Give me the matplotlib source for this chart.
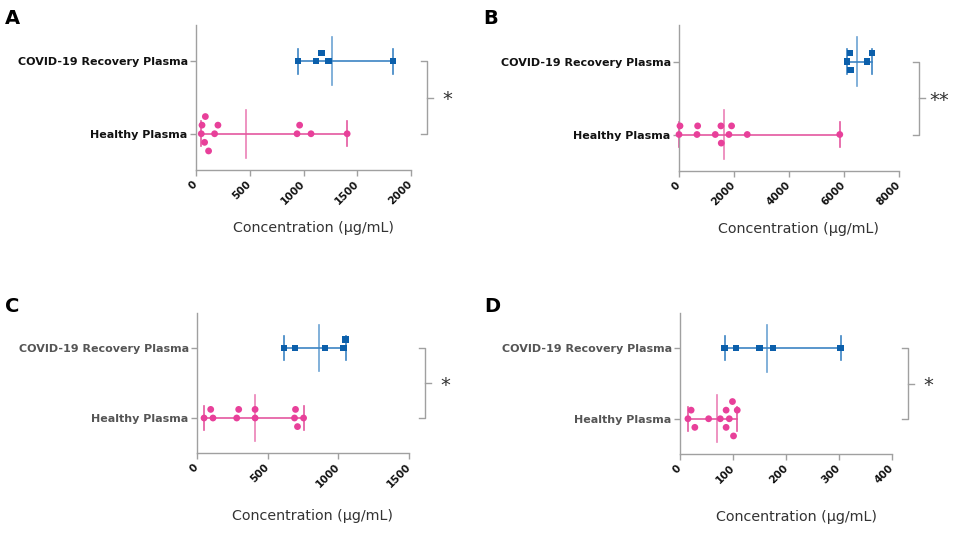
import numpy as np
import matplotlib
matplotlib.use("Agg")
import matplotlib.pyplot as plt
from matplotlib.transforms import blended_transform_factory

# ---------------- data ----------------
categories = ["Healthy Plasma", "COVID-19 Recovery Plasma"]
panel_letters = ["A", "B", "C", "D"]

a_covid = [949, 1119, 1168, 1233, 1836]
a_healthy = [49, 56, 80, 87, 117, 173, 204, 940, 964, 1070, 1406]
b_covid = [6100, 6209, 6233, 6826, 7008]
b_healthy = [0, 36, 654, 678, 1319, 1525, 1537, 1815, 1912, 2481, 5846]
c_covid = [614, 694, 907, 1037, 1051]
c_healthy = [50, 97, 113, 281, 295, 411, 411, 690, 697, 711, 754]
d_covid = [84, 105, 150, 175, 303]
d_healthy = [15, 21, 28, 54, 76, 87, 87, 93, 99, 101, 108]

a_ticks = [0, 500, 1000, 1500, 2000]
b_ticks = [0, 2000, 4000, 6000, 8000]
c_ticks = [0, 500, 1000, 1500]
d_ticks = [0, 100, 200, 300, 400]

significance = ["*", "**", "*", "*"]
x_label = "Concentration (µg/mL)"

# ---------------- style ----------------
W, H = 960, 535
fig = plt.figure(figsize=(W / 100, H / 100), dpi=100)
plt.rcParams['font.family'] = ['DejaVu Sans']

COVID_MARK = "#0b5fab"
COVID_LINE = "#3c84c4"
HEALTHY_MARK = "#e8409a"
HEALTHY_LINE = "#e4579f"
SPINE = "#a0a0a0"

# axes boxes in pixels: left, top, right, bottom
boxes = [(196, 25, 411, 170), (679, 25, 899, 171),
         (197, 313, 409, 453), (680, 313, 892, 454)]
letter_pos = [(12, 19), (491, 19), (12, 307), (492, 306)]
label_colors = ["#111111", "#111111", "#555555", "#555555"]
bracket_off = [16, 20, 16, 16]
xlabel_off = [58, 58, 63, 63]

panels = [(a_healthy, a_covid, a_ticks), (b_healthy, b_covid, b_ticks),
          (c_healthy, c_covid, c_ticks), (d_healthy, d_covid, d_ticks)]

ROW_PX = 8.6


def swarm_rows(vals, px_per_unit, d_px=ROW_PX):
    vals = np.asarray(vals, float)
    order = np.argsort(vals, kind="stable")
    placed = []
    rows = np.zeros(len(vals))
    for i in order:
        x = vals[i] * px_per_unit
        found = None
        lvl = 0
        while found is None:
            cands = [0] if lvl == 0 else [lvl, -lvl]
            for r in cands:
                ok = all(np.hypot(x - px, (r - pr) * d_px) >= d_px - 1e-6
                         for px, pr in placed)
                if ok:
                    found = r
                    break
            lvl += 1
        rows[i] = found
        placed.append((x, found))
    return rows


for k, (healthy, covid, ticks) in enumerate(panels):
    l, t, r, b = boxes[k]
    wpx, hpx = r - l, b - t
    ax = fig.add_axes([l / W, 1 - b / H, wpx / W, hpx / H])
    ax.set_xlim(0, ticks[-1])
    ax.set_ylim(-0.5, 1.5)
    px_per_unit = wpx / ticks[-1]
    row_units = ROW_PX / (hpx / 2.0)

    groups = [(healthy, 0, "o", HEALTHY_MARK, HEALTHY_LINE, 24),
              (covid, 1, "s", COVID_MARK, COVID_LINE, 20)]
    for vals, y, mk, mc, lc, s in groups:
        v = np.asarray(vals, float)
        lo, hi, mean = v.min(), v.max(), v.mean()
        ax.plot([lo, hi], [y, y], color=lc, lw=1.2, zorder=2, clip_on=False)
        for e in (lo, hi):
            ax.plot([e, e], [y - 0.17, y + 0.17], color=lc, lw=1.2,
                    zorder=2, clip_on=False)
        ax.plot([mean, mean], [y - 0.33, y + 0.33], color=lc, lw=1.2,
                alpha=0.75, zorder=2, clip_on=False)
        rows = swarm_rows(v, px_per_unit)
        ax.scatter(v, y + rows * row_units, marker=mk, s=s, color=mc,
                   edgecolors="none", zorder=3, clip_on=False)

    for sp in ("top", "right"):
        ax.spines[sp].set_visible(False)
    for sp in ("left", "bottom"):
        ax.spines[sp].set_color(SPINE)
        ax.spines[sp].set_linewidth(1.0)

    ax.set_yticks([0, 1])
    ax.set_yticklabels(categories, fontsize=8.0, fontweight="bold",
                       color=label_colors[k])
    ax.set_xticks(ticks)
    ax.set_xticklabels([str(tk) for tk in ticks], fontsize=7.6,
                       fontweight="bold", color="#111111", rotation=45,
                       ha="right", va="center", rotation_mode="anchor")
    ax.tick_params(axis="both", colors=SPINE, length=4, width=1)
    ax.tick_params(axis="x", labelcolor="#111111", pad=5)
    ax.tick_params(axis="y", labelcolor=label_colors[k], pad=2)

    ax.set_xlabel(x_label, fontsize=10.3, color="#333333")
    ax.xaxis.label.set_va("center")
    ax.xaxis.set_label_coords(0.5 + 10 / wpx, -(xlabel_off[k] / hpx))

    # significance bracket
    tr = blended_transform_factory(ax.transAxes, ax.transData)
    bx = 1 + bracket_off[k] / wpx
    tk = 6 / wpx
    ax.plot([bx - tk, bx, bx, bx - tk], [1, 1, 0, 0], color=SPINE, lw=1.0,
            transform=tr, clip_on=False)
    ax.plot([bx, bx + tk], [0.5, 0.5], color=SPINE, lw=1.0,
            transform=tr, clip_on=False)
    ax.text(bx + 20 / wpx, 0.47, significance[k], transform=tr, fontsize=14,
            color="#333333", ha="center", va="center", clip_on=False)

    fig.text(letter_pos[k][0] / W, 1 - letter_pos[k][1] / H,
             panel_letters[k], fontsize=14, fontweight="bold",
             ha="center", va="center", color="#000000")

fig.savefig("out.png", dpi=100)
